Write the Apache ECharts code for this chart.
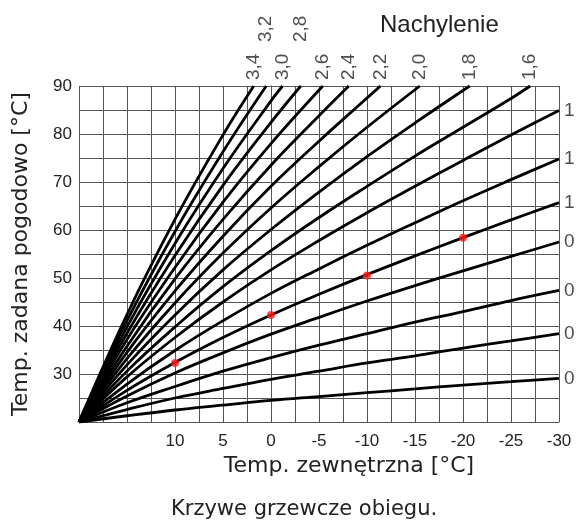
<!DOCTYPE html>
<html>
<head>
<meta charset="utf-8">
<script src="https://cdn.jsdelivr.net/npm/echarts@6/dist/echarts.min.js"></script>
<style>
html,body{margin:0;padding:0;background:#fff;}
#c{width:576px;height:522px;}
</style>
</head>
<body>
<div id="c"></div>
<script>
// Slope labels (Nachylenie)
const slopes = ['3,4','3,2','3,0','2,8','2,6','2,4','2,2','2,0','1,8','1,6','1,4','1,2','1,0','0,8','0,6','0,4','0,2'];

// Outdoor temperature grid for full-width curves
const xTemps = [20, 15, 10, 5, 0, -5, -10, -15, -20, -25, -30];

// Steep curves: [outdoor temp, flow temp] pairs, ending at the 90 °C border
const curve_3_4 = [[20,20],[15,42.4],[10,62.2],[5,79.8],[1.8,90]];
const curve_3_2 = [[20,20],[15,41.1],[10,59.7],[5,76.3],[0.5,90]];
const curve_3_0 = [[20,20],[15,39.8],[10,57.2],[5,72.8],[0,86.9],[-1.2,90]];
const curve_2_8 = [[20,20],[15,38.5],[10,54.7],[5,69.3],[0,82.4],[-3.1,90]];
const curve_2_6 = [[20,20],[15,37.2],[10,52.2],[5,65.8],[0,78.0],[-5.4,90]];
const curve_2_4 = [[20,20],[15,35.8],[10,49.8],[5,62.2],[0,73.5],[-5,83.8],[-8.1,90]];
const curve_2_2 = [[20,20],[15,34.5],[10,47.3],[5,58.7],[0,69.1],[-5,78.5],[-10,87.5],[-11.4,90]];
const curve_2_0 = [[20,20],[15,33.2],[10,44.8],[5,55.2],[0,64.6],[-5,73.2],[-10,81.4],[-15.5,90]];
const curve_1_8 = [[20,20],[15,31.9],[10,42.3],[5,51.7],[0,60.1],[-5,67.9],[-10,75.3],[-15,82.3],[-20.7,90]];
const curve_1_6 = [[20,20],[15,30.6],[10,39.8],[5,48.2],[0,55.7],[-5,62.6],[-10,69.1],[-15,75.4],[-20,81.4],[-25,87.4],[-27.0,90]];

// Flat curves: flow temp at each xTemps value
const curve_1_4 = [20, 29.4, 37.6, 45.0, 51.7, 57.8, 63.6, 69.1, 74.5, 79.8, 84.9];
const curve_1_2 = [20, 27.9, 34.9, 41.1, 46.8, 51.9, 56.8, 61.5, 66.1, 70.5, 74.8];
const curve_1_0 = [20, 26.6, 32.4, 37.6, 42.3, 46.6, 50.7, 54.6, 58.4, 62.1, 65.7];
const curve_0_8 = [20, 25.4, 30.2, 34.4, 38.3, 41.8, 45.2, 48.4, 51.5, 54.5, 57.5];
const curve_0_6 = [20, 24.0, 27.4, 30.6, 33.4, 36.0, 38.4, 40.8, 43.0, 45.3, 47.4];
const curve_0_4 = [20, 22.6, 25.0, 27.0, 28.9, 30.6, 32.3, 33.8, 35.4, 36.9, 38.4];
const curve_0_2 = [20, 21.3, 22.5, 23.5, 24.5, 25.3, 26.1, 26.9, 27.7, 28.4, 29.1];

// Red marker points
const redX = [10, 0, -10, -20];
const redY = [32.3, 42.3, 50.5, 58.4];

// Axis tick label values
const xTickLabels = [10, 5, 0, -5, -10, -15, -20, -25, -30];
const yTickLabels = [30, 40, 50, 60, 70, 80, 90];

const steep = [curve_3_4, curve_3_2, curve_3_0, curve_2_8, curve_2_6, curve_2_4, curve_2_2, curve_2_0, curve_1_8, curve_1_6];
const flat = [curve_1_4, curve_1_2, curve_1_0, curve_0_8, curve_0_6, curve_0_4, curve_0_2];
const allCurves = steep.concat(flat.map(arr => arr.map((v, i) => [xTemps[i], v])));

const upperRow = ['3,2', '2,8'];
const series = [];
allCurves.forEach((pts) => {
  series.push({
    type: 'line', data: pts, smooth: 0.4, symbol: 'none',
    lineStyle: { color: '#000', width: 2.8 }, z: 3, silent: true
  });
});
const endTop = [], endRight = [];
allCurves.forEach((pts, i) => {
  const last = pts[pts.length - 1];
  if (last[1] >= 90) {
    endTop.push({ value: last, label: { distance: upperRow.indexOf(slopes[i]) >= 0 ? 44 : 6 }, name: slopes[i] });
  } else {
    endRight.push({ value: last, name: slopes[i] });
  }
});
series.push({
  type: 'scatter', data: endTop, symbolSize: 0, z: 4, silent: true,
  label: { show: true, position: 'top', rotate: 90, align: 'left', verticalAlign: 'middle',
    formatter: p => p.name, fontFamily: 'Liberation Sans', fontSize: 19, color: '#222' }
});
series.push({
  type: 'scatter', data: endRight, symbolSize: 0, z: 4, silent: true,
  label: { show: true, position: 'right', distance: 5,
    formatter: p => p.name, fontFamily: 'Liberation Sans', fontSize: 19, color: '#222' }
});
series.push({
  type: 'scatter', data: redX.map((x, i) => [x, redY[i]]), symbolSize: 8, z: 5, silent: true,
  itemStyle: { color: '#ff1a1a' }
});

const chart = echarts.init(document.getElementById('c'), null, { renderer: 'canvas' });
chart.setOption({
  animation: false,
  backgroundColor: '#fff',
  title: [
    { text: 'Krzywe grzewcze obiegu.', left: 166, top: 494,
      textStyle: { fontFamily: 'DejaVu Sans', fontSize: 21, fontWeight: 'normal', color: '#222' } },
    { text: 'Nachylenie', left: 375, top: 8,
      textStyle: { fontFamily: 'Liberation Sans', fontSize: 24, fontWeight: 'normal', color: '#222' } }
  ],
  grid: { left: 79, right: 17, top: 86, bottom: 100, containLabel: false },
  xAxis: {
    type: 'value', min: -30, max: 20, interval: 2.5, inverse: true,
    name: 'Temp. zewnętrzna [°C]', nameLocation: 'middle', nameGap: 31,
    nameTextStyle: { fontFamily: 'DejaVu Sans', fontSize: 22, color: '#222', padding: [0, 0, 0, 60] },
    axisLine: { show: true, lineStyle: { color: '#555', width: 1 } },
    axisTick: { show: false },
    axisLabel: { fontFamily: 'Liberation Sans', fontSize: 17, color: '#222', margin: 11,
      formatter: v => xTickLabels.indexOf(v) >= 0 ? String(v) : '' },
    splitLine: { show: true, lineStyle: { color: '#555', width: 1 } }
  },
  yAxis: {
    type: 'value', min: 20, max: 90, interval: 5,
    name: 'Temp. zadana pogodowo [°C]', nameLocation: 'middle', nameGap: 47, nameRotate: 90,
    nameTextStyle: { fontFamily: 'DejaVu Sans', fontSize: 22, color: '#222' },
    axisLine: { show: true, lineStyle: { color: '#555', width: 1 } },
    axisTick: { show: false },
    axisLabel: { fontFamily: 'Liberation Sans', fontSize: 17, color: '#222', margin: 7,
      formatter: v => yTickLabels.indexOf(v) >= 0 ? String(v) : '' },
    splitLine: { show: true, lineStyle: { color: '#555', width: 1 } }
  },
  series: series
});
</script>
</body>
</html>
